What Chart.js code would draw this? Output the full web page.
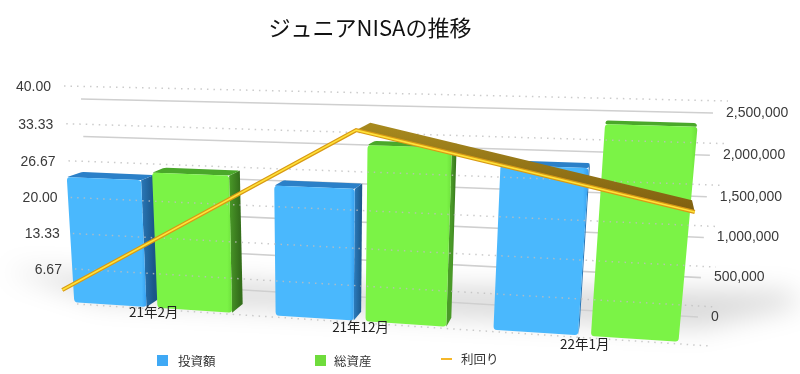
<!DOCTYPE html>
<html>
<head>
<meta charset="utf-8">
<script src="https://cdn.jsdelivr.net/npm/chart.js@4/dist/chart.umd.min.js"></script>
<style>
  html, body { margin: 0; padding: 0; background: #fff; }
  canvas { display: block; }
</style>
</head>
<body>
<canvas id="grafico" width="800" height="374"></canvas>
<script>
const categorias = ["21年2月", "21年12月", "22年1月"];
const investimento = [1475000, 1475000, 1790000];
const totalAtivos = [1565000, 1950000, 2240000];
const rendimento = [2.3, 33.5, 22.1];
const ticksEsq = [0, 6.67, 13.33, 20, 26.67, 33.33, 40];
const labelsEsq = ["", "6.67", "13.33", "20.00", "26.67", "33.33", "40.00"];
const ticksDir = [0, 500000, 1000000, 1500000, 2000000, 2500000];
const labelsDir = ["0", "500,000", "1,000,000", "1,500,000", "2,000,000", "2,500,000"];

// quadros da perspectiva: topo esq, topo dir, baixo dir, baixo esq
const quadroBarras = [[40, 85], [727, 101], [704, 343.5], [54, 301]];
const quadroLinha = [[50, 84], [704, 99], [684, 344], [63, 302]];
const quadroPontos = [[64, 86], [728, 101], [710, 346], [77, 304]];
const quadroFundo = [[81, 99], [713, 113], [698, 317], [92, 281]];
const fugaBarra = [640, -20];

function criarMapa(q) {
  const [p0, p1, p2, p3] = q;
  const dx1 = p1[0] - p2[0], dx2 = p3[0] - p2[0], sx = p0[0] - p1[0] + p2[0] - p3[0];
  const dy1 = p1[1] - p2[1], dy2 = p3[1] - p2[1], sy = p0[1] - p1[1] + p2[1] - p3[1];
  const den = dx1 * dy2 - dx2 * dy1;
  const g = (sx * dy2 - dx2 * sy) / den;
  const h = (dx1 * sy - sx * dy1) / den;
  const a = p1[0] - p0[0] + g * p1[0], b = p3[0] - p0[0] + h * p3[0], c = p0[0];
  const d = p1[1] - p0[1] + g * p1[1], e = p3[1] - p0[1] + h * p3[1], f = p0[1];
  return (u, v) => {
    const w = g * u + h * v + 1;
    return [(a * u + b * v + c) / w, (d * u + e * v + f) / w];
  };
}

const mapaBarras = criarMapa(quadroBarras);
const mapaLinha = criarMapa(quadroLinha);
const mapaPontos = criarMapa(quadroPontos);
const mapaFundo = criarMapa(quadroFundo);

function profundidade(p, k) {
  return [p[0] + (fugaBarra[0] - p[0]) * k, p[1] + (fugaBarra[1] - p[1]) * k];
}

function poligono(ctx, pts, cor) {
  ctx.beginPath();
  pts.forEach((p, i) => (i ? ctx.lineTo(p[0], p[1]) : ctx.moveTo(p[0], p[1])));
  ctx.closePath();
  ctx.fillStyle = cor;
  ctx.fill();
}

function quadArredondado(ctx, pts, r) {
  ctx.beginPath();
  const n = pts.length;
  for (let i = 0; i < n; i++) {
    const p = pts[i], prox = pts[(i + 1) % n];
    const len = Math.hypot(prox[0] - p[0], prox[1] - p[1]);
    const t = r / len;
    const ini = [p[0] + (prox[0] - p[0]) * t, p[1] + (prox[1] - p[1]) * t];
    const fim = [prox[0] - (prox[0] - p[0]) * t, prox[1] - (prox[1] - p[1]) * t];
    const depois = pts[(i + 2) % n];
    const len2 = Math.hypot(depois[0] - prox[0], depois[1] - prox[1]);
    const ini2 = [prox[0] + (depois[0] - prox[0]) * r / len2, prox[1] + (depois[1] - prox[1]) * r / len2];
    if (i === 0) ctx.moveTo(ini[0], ini[1]);
    ctx.lineTo(fim[0], fim[1]);
    ctx.quadraticCurveTo(prox[0], prox[1], ini2[0], ini2[1]);
  }
  ctx.closePath();
}

function desenharBarra(ctx, el, area, cores) {
  const uE = (el.x - el.width / 2 - area.left) / area.width;
  const uD = (el.x + el.width / 2 - area.left) / area.width;
  const vT = (el.y - area.top) / area.height;
  const vB = (el.base - area.top) / area.height;
  const te = mapaBarras(uE, vT), td = mapaBarras(uD, vT), bd = mapaBarras(uD, vB), be = mapaBarras(uE, vB);
  const k = 0.026;
  const pte = profundidade(te, k), ptd = profundidade(td, k), pbd = profundidade(bd, k);

  // tampa e lateral
  const gradLado = ctx.createLinearGradient(td[0], 0, ptd[0] + 0.01, 0);
  gradLado.addColorStop(0, cores.lado1);
  gradLado.addColorStop(1, cores.lado2);
  if (ptd[0] > td[0]) poligono(ctx, [td, ptd, pbd, bd], gradLado);
  quadArredondado(ctx, [te, pte, ptd, td], 2);
  ctx.fillStyle = cores.topo;
  ctx.fill();

  // frente
  const gradFrente = ctx.createLinearGradient(Math.min(te[0], be[0]), 0, Math.max(td[0], bd[0]), 0);
  gradFrente.addColorStop(0, cores.frente);
  gradFrente.addColorStop(0.94, cores.frente);
  gradFrente.addColorStop(1, cores.borda);
  quadArredondado(ctx, [te, td, bd, be], 3.5);
  ctx.fillStyle = gradFrente;
  ctx.fill();
}

const plugin3d = {
  id: "plugin3d",
  beforeDatasetDraw() {
    return false; // desenhado todo em beforeDatasetsDraw
  },
  beforeDatasetsDraw(chart) {
    const ctx = chart.ctx, area = chart.chartArea;
    const yEsq = chart.scales.yEsq, yDir = chart.scales.yDir;
    const vDe = (s, valor) => (s.getPixelForValue(valor) - area.top) / area.height;

    // sombra no chao
    ctx.save();
    ctx.filter = "blur(13px)";
    poligono(ctx, [[5, 270], [300, 285], [790, 292], [800, 305], [700, 328], [100, 300]], "rgba(0,0,0,0.15)");
    ctx.restore();

    // grade do fundo
    ctx.save();
    ctx.strokeStyle = "#cfcfcf";
    ctx.lineWidth = 1.6;
    ctx.font = "14px 'Liberation Sans'";
    ctx.fillStyle = "#3a3a3a";
    ctx.textBaseline = "middle";
    ctx.textAlign = "left";
    ticksDir.forEach((valor, i) => {
      const v = vDe(yDir, valor);
      const a = mapaFundo(0, v), b = mapaFundo(1, v);
      ctx.beginPath();
      ctx.moveTo(a[0], a[1]);
      ctx.lineTo(b[0], b[1]);
      ctx.stroke();
      ctx.fillText(labelsDir[i], b[0] + 13, b[1]);
    });
    ctx.restore();

    // barras
    const coresAzul = { frente: "#4ab8fd", borda: "#359ff0", topo: "#2b80c8", lado1: "#2a78b8", lado2: "#1b5688" };
    const coresVerde = { frente: "#7bf346", borda: "#6ee03c", topo: "#4aa82a", lado1: "#4a9a28", lado2: "#346f1b" };
    [[1, coresAzul], [2, coresVerde]].forEach(([idx, cores]) => {
      chart.getDatasetMeta(idx).data.forEach((el) => desenharBarra(ctx, el, area, cores));
    });

    // linhas pontilhadas por cima das barras
    ctx.save();
    ctx.font = "14px 'Liberation Sans'";
    ctx.textBaseline = "middle";
    ctx.textAlign = "right";
    ticksEsq.forEach((valor, i) => {
      const v = vDe(yEsq, valor);
      const a = mapaPontos(0, v), b = mapaPontos(1, v);
      ctx.strokeStyle = "rgba(190,190,190,0.8)";
      ctx.lineWidth = 1.5;
      ctx.setLineDash([1.5, 5]);
      ctx.beginPath();
      ctx.moveTo(a[0], a[1]);
      ctx.lineTo(b[0], b[1]);
      ctx.stroke();
      ctx.setLineDash([]);
      ctx.fillStyle = "#3a3a3a";
      ctx.fillText(labelsEsq[i], a[0] - 13, a[1] + 1);
    });
    ctx.restore();

    // rotulos das categorias
    ctx.save();
    ctx.font = "13.5px 'Noto Sans CJK JP'";
    ctx.fillStyle = "#222";
    ctx.textAlign = "center";
    ctx.textBaseline = "middle";
    chart.scales.x.ticks.forEach((t, i) => {
      const u = (chart.scales.x.getPixelForTick(i) - area.left) / area.width;
      const p = mapaBarras(u, 1);
      ctx.fillText(categorias[i], p[0] + 2 * (1 - u), p[1] + 3 + 6 * u);
    });
    ctx.restore();

    // linha em fita
    const pts = chart.getDatasetMeta(0).data.map((el) =>
      mapaLinha((el.x - area.left) / area.width, (el.y - area.top) / area.height));
    ctx.save();
    for (let i = 0; i < pts.length - 1; i++) {
      const a = pts[i], b = pts[i + 1];
      const pa = profundidade(a, 0.05), pb = profundidade(b, 0.05);
      const grad = ctx.createLinearGradient(0, Math.min(pa[1], pb[1]), 0, Math.max(a[1], b[1]));
      grad.addColorStop(0, "#a88a1e");
      grad.addColorStop(1, "#7f5f10");
      poligono(ctx, [a, pa, pb, b], grad);
    }
    ctx.lineJoin = "miter";
    [["#d99a14", 4], ["#ffe23a", 1.6]].forEach(([cor, larg]) => {
      ctx.strokeStyle = cor;
      ctx.lineWidth = larg;
      ctx.beginPath();
      pts.forEach((p, i) => (i ? ctx.lineTo(p[0], p[1]) : ctx.moveTo(p[0], p[1])));
      ctx.stroke();
    });
    ctx.restore();

    // legenda
    ctx.save();
    ctx.font = "12.5px 'Noto Sans CJK JP'";
    ctx.textBaseline = "middle";
    ctx.textAlign = "left";
    ctx.fillStyle = "#3fa9f5";
    ctx.fillRect(157, 355, 11, 11);
    ctx.fillStyle = "#6fdc3c";
    ctx.fillRect(315, 355, 11, 11);
    ctx.fillStyle = "#f5b72a";
    ctx.fillRect(441, 358, 11, 2);
    ctx.fillStyle = "#333";
    ctx.fillText(chart.data.datasets[1].label, 178, 361);
    ctx.fillText(chart.data.datasets[2].label, 334, 361);
    ctx.fillText(chart.data.datasets[0].label, 461, 359);
    ctx.restore();
  },
};

new Chart(document.getElementById("grafico"), {
  type: "bar",
  data: {
    labels: categorias,
    datasets: [
      { type: "line", label: "利回り", data: rendimento, xAxisID: "xLinha", yAxisID: "yEsq", borderColor: "#f5b72a", order: 0 },
      { type: "bar", label: "投資額", data: investimento, xAxisID: "x", yAxisID: "yDir", backgroundColor: "#3fa9f5", order: 1, categoryPercentage: 1.69, barPercentage: 0.87 },
      { type: "bar", label: "総資産", data: totalAtivos, xAxisID: "x", yAxisID: "yDir", backgroundColor: "#6fdc3c", order: 1, categoryPercentage: 1.69, barPercentage: 0.87 },
    ],
  },
  options: {
    responsive: false,
    animation: false,
    layout: { padding: { right: 60 } },
    plugins: {
      legend: { display: false },
      tooltip: { enabled: false },
      title: {
        display: true,
        text: "ジュニアNISAの推移",
        color: "#111",
        font: { family: "'Noto Sans CJK JP'", size: 22, weight: "normal" },
        padding: { top: 14, bottom: 10 },
      },
    },
    scales: {
      x: { ticks: { display: false }, grid: { display: false }, border: { display: false } },
      xLinha: { offset: false, ticks: { display: false }, grid: { display: false }, border: { display: false } },
      yEsq: {
        position: "left", min: 0, max: 40,
        afterBuildTicks: (s) => { s.ticks = ticksEsq.map((v) => ({ value: v })); },
        ticks: { display: false }, grid: { display: false }, border: { display: false },
      },
      yDir: {
        position: "right", min: 0, max: 2500000,
        afterBuildTicks: (s) => { s.ticks = ticksDir.map((v) => ({ value: v })); },
        ticks: { display: false }, grid: { display: false }, border: { display: false },
      },
    },
  },
  plugins: [plugin3d],
});
</script>
</body>
</html>
